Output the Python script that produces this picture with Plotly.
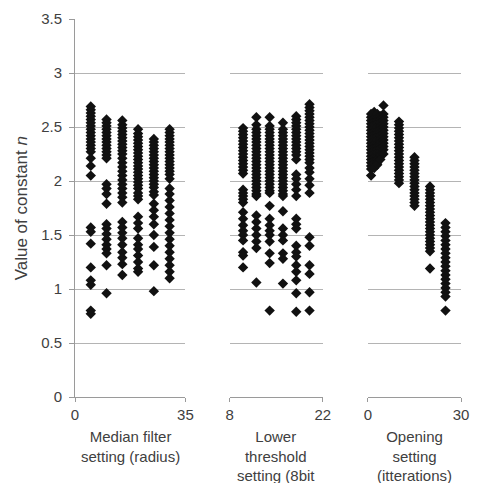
import plotly.graph_objects as go

# ---------------- data ----------------
# Panel 1: median filter setting (radius)
median_settings = [5, 10, 15, 20, 25, 30]
median_r5 = [2.69, 2.66, 2.63, 2.60, 2.57, 2.54, 2.51, 2.48, 2.45, 2.42, 2.39, 2.36, 2.33, 2.30, 2.27,
             2.21, 2.14, 2.05, 1.57, 1.53, 1.42, 1.20, 1.08, 1.04, 0.80, 0.77]
median_r10 = [2.57, 2.54, 2.51, 2.48, 2.45, 2.42, 2.39, 2.36, 2.33, 2.30, 2.27, 2.24, 2.21,
              1.97, 1.93, 1.88, 1.79, 1.60, 1.56, 1.51, 1.46, 1.41, 1.37, 1.33, 1.22, 0.96]
median_r15 = [2.56, 2.52, 2.49, 2.46, 2.43, 2.40, 2.37, 2.34, 2.31, 2.28, 2.25, 2.21, 2.17, 2.13,
              2.09, 2.05, 2.01, 1.97, 1.93, 1.89, 1.85, 1.80, 1.62, 1.57, 1.52, 1.47, 1.41, 1.34,
              1.29, 1.23, 1.13]
median_r20 = [2.48, 2.44, 2.41, 2.38, 2.35, 2.32, 2.29, 2.26, 2.23, 2.20, 2.17, 2.14, 2.11, 2.08,
              2.05, 2.02, 1.99, 1.96, 1.93, 1.89, 1.86, 1.83, 1.67, 1.61, 1.56, 1.47, 1.41, 1.37,
              1.31, 1.25, 1.19, 1.16]
median_r25 = [2.39, 2.36, 2.33, 2.30, 2.27, 2.24, 2.21, 2.18, 2.15, 2.12, 2.09, 2.06, 2.03, 2.00,
              1.97, 1.94, 1.90, 1.87, 1.79, 1.73, 1.67, 1.60, 1.50, 1.39, 1.22, 0.98]
median_r30 = [2.48, 2.45, 2.42, 2.39, 2.36, 2.33, 2.30, 2.27, 2.24, 2.21, 2.18, 2.15, 2.12, 2.09,
              2.06, 2.02, 1.93, 1.88, 1.82, 1.76, 1.70, 1.64, 1.58, 1.52, 1.46, 1.40, 1.34, 1.28,
              1.22, 1.16, 1.10]
median_values = [median_r5, median_r10, median_r15, median_r20, median_r25, median_r30]

# Panel 2: lower threshold setting (8bit)
threshold_settings = [10, 12, 14, 16, 18, 20]
thr_10 = [2.49, 2.46, 2.43, 2.40, 2.37, 2.34, 2.31, 2.28, 2.25, 2.22, 2.19, 2.16, 2.13, 2.10, 2.07,
          1.92, 1.89, 1.86, 1.83, 1.80, 1.71, 1.65, 1.59, 1.54, 1.50, 1.45, 1.34, 1.31, 1.20]
thr_12 = [2.59, 2.52, 2.48, 2.45, 2.42, 2.39, 2.36, 2.33, 2.30, 2.27, 2.24, 2.21, 2.18, 2.15, 2.12,
          2.09, 2.06, 2.03, 2.00, 1.97, 1.94, 1.91, 1.88, 1.86, 1.68, 1.62, 1.56, 1.50, 1.44, 1.38,
          1.06]
thr_14 = [2.59, 2.51, 2.48, 2.45, 2.42, 2.39, 2.36, 2.33, 2.30, 2.27, 2.24, 2.21, 2.18, 2.15, 2.12,
          2.09, 2.06, 2.03, 2.00, 1.97, 1.94, 1.91, 1.89, 1.77, 1.65, 1.59, 1.54, 1.50, 1.44, 1.33,
          1.24, 0.80]
thr_16 = [2.54, 2.48, 2.45, 2.42, 2.39, 2.36, 2.33, 2.30, 2.27, 2.24, 2.21, 2.18, 2.15, 2.12, 2.09,
          2.06, 2.03, 2.00, 1.97, 1.94, 1.91, 1.88, 1.86, 1.72, 1.56, 1.50, 1.45, 1.33, 1.28, 1.05]
thr_18 = [2.60, 2.57, 2.54, 2.51, 2.48, 2.45, 2.42, 2.39, 2.36, 2.33, 2.30, 2.27, 2.24, 2.20,
          2.06, 2.02, 1.97, 1.92, 1.86, 1.65, 1.60, 1.56, 1.40, 1.34, 1.30, 1.22, 1.16, 1.08,
          0.96, 0.79]
thr_20 = [2.71, 2.68, 2.65, 2.62, 2.59, 2.56, 2.53, 2.50, 2.47, 2.44, 2.41, 2.38, 2.35, 2.32, 2.29,
          2.26, 2.23, 2.20, 2.17, 2.12, 2.08, 2.02, 1.96, 1.89, 1.48, 1.40, 1.22, 1.14, 0.97, 0.80]
threshold_values = [thr_10, thr_12, thr_14, thr_16, thr_18, thr_20]

# Panel 3: opening setting (iterations)
opening_settings = [1, 2, 3, 4, 5, 10, 15, 20, 25]
open_1 = [2.62, 2.59, 2.56, 2.53, 2.50, 2.47, 2.44, 2.41, 2.38, 2.35, 2.32, 2.29, 2.26, 2.23,
          2.20, 2.17, 2.14, 2.11, 2.05]
open_2 = [2.64, 2.61, 2.58, 2.55, 2.52, 2.49, 2.46, 2.43, 2.40, 2.37, 2.34, 2.31, 2.28, 2.25,
          2.22, 2.19, 2.16, 2.12]
open_3 = [2.62, 2.59, 2.56, 2.53, 2.50, 2.47, 2.44, 2.41, 2.38, 2.35, 2.32, 2.29, 2.26, 2.23,
          2.20, 2.17, 2.15]
open_4 = [2.60, 2.57, 2.54, 2.51, 2.48, 2.45, 2.42, 2.39, 2.36, 2.33, 2.30, 2.27, 2.24, 2.20]
open_5 = [2.70, 2.62, 2.59, 2.56, 2.53, 2.50, 2.47, 2.44, 2.41, 2.38, 2.35, 2.32, 2.29, 2.25]
open_10 = [2.55, 2.52, 2.49, 2.46, 2.43, 2.40, 2.37, 2.34, 2.31, 2.28, 2.25, 2.22, 2.19, 2.16,
           2.13, 2.10, 2.07, 2.04, 2.01, 1.98]
open_15 = [2.22, 2.19, 2.16, 2.13, 2.10, 2.07, 2.04, 2.01, 1.98, 1.95, 1.92, 1.89, 1.86, 1.83,
           1.80, 1.77]
open_20 = [1.95, 1.92, 1.89, 1.86, 1.83, 1.80, 1.77, 1.74, 1.71, 1.68, 1.65, 1.62, 1.59, 1.56,
           1.53, 1.50, 1.47, 1.44, 1.41, 1.38, 1.35, 1.19]
open_25 = [1.61, 1.57, 1.53, 1.49, 1.45, 1.41, 1.37, 1.33, 1.29, 1.25, 1.21, 1.17, 1.13, 1.09,
           1.05, 1.01, 0.97, 0.93, 0.80]
opening_values = [open_1, open_2, open_3, open_4, open_5, open_10, open_15, open_20, open_25]

y_ticks = [0, 0.5, 1, 1.5, 2, 2.5, 3, 3.5]
x_titles = ["Median filter<br>setting (radius)",
            "Lower<br>threshold<br>setting (8bit",
            "Opening<br>setting<br>(itterations)"]
x_ranges = [[0, 35], [8, 22], [0, 30]]
y_title = "Value of constant <i>n</i>"

# ---------------- figure ----------------
FONT = "Liberation Sans, Arial, sans-serif"
GRID = "#b4b4b4"
LINE = "#9a9a9a"
TXT = "#404040"

fig = go.Figure()

panels = [(median_settings, median_values), (threshold_settings, threshold_values),
          (opening_settings, opening_values)]
for i, (settings, values) in enumerate(panels):
    xs, ys = [], []
    for s, vals in zip(settings, values):
        xs += [s] * len(vals)
        ys += vals
    suffix = "" if i == 0 else str(i + 1)
    fig.add_trace(go.Scatter(
        x=xs, y=ys, mode="markers",
        marker=dict(symbol="diamond", size=8, color="#111111", line=dict(width=0)),
        xaxis="x" + suffix, yaxis="y" + suffix, showlegend=False, cliponaxis=False))

domains = [[0.0, 0.286], [0.401, 0.642], [0.759, 1.0]]
layout = dict(
    width=479, height=483,
    margin=dict(l=75, r=10, t=16, b=86),
    paper_bgcolor="white", plot_bgcolor="white",
    font=dict(family=FONT, size=15, color=TXT),
    showlegend=False,
)
for i in range(3):
    suffix = "" if i == 0 else str(i + 1)
    layout["xaxis" + suffix] = dict(
        domain=domains[i], range=x_ranges[i], tickvals=x_ranges[i],
        showgrid=False, zeroline=False, showline=True, linecolor=LINE, linewidth=1,
        ticks="outside", ticklen=4, tickcolor=LINE, tickwidth=1,
        tickfont=dict(size=15, color=TXT), anchor="y" + suffix, fixedrange=True,
    )
    layout["yaxis" + suffix] = dict(
        range=[0, 3.5], tickvals=y_ticks, showgrid=True, gridcolor=GRID, gridwidth=1,
        zeroline=False, anchor="x" + suffix, fixedrange=True,
        showline=(i == 0), linecolor=LINE, linewidth=1,
        ticks="outside" if i == 0 else "", ticklen=5, tickcolor=LINE,
        showticklabels=(i == 0), tickfont=dict(size=15, color=TXT),
        ticklabelstandoff=4,
    )
    if i > 0:
        layout["yaxis" + suffix]["matches"] = "y"

fig.update_layout(**layout)

for i in range(3):
    suffix = "" if i == 0 else str(i + 1)
    fig.add_annotation(
        text=x_titles[i], xref="x" + suffix + " domain", yref="paper",
        x=0.5, y=-0.076, xanchor="center", yanchor="top", showarrow=False,
        font=dict(size=15, color=TXT, family=FONT), align="center")

fig.add_annotation(
    text=y_title, xref="paper", yref="paper", x=-0.139, y=0.5,
    xanchor="center", yanchor="middle", textangle=-90, showarrow=False,
    font=dict(size=17, color=TXT, family=FONT))

fig.write_html("out.html", config={"displayModeBar": False},
               post_script="document.body.style.margin='0px';document.body.style.overflow='hidden';")
